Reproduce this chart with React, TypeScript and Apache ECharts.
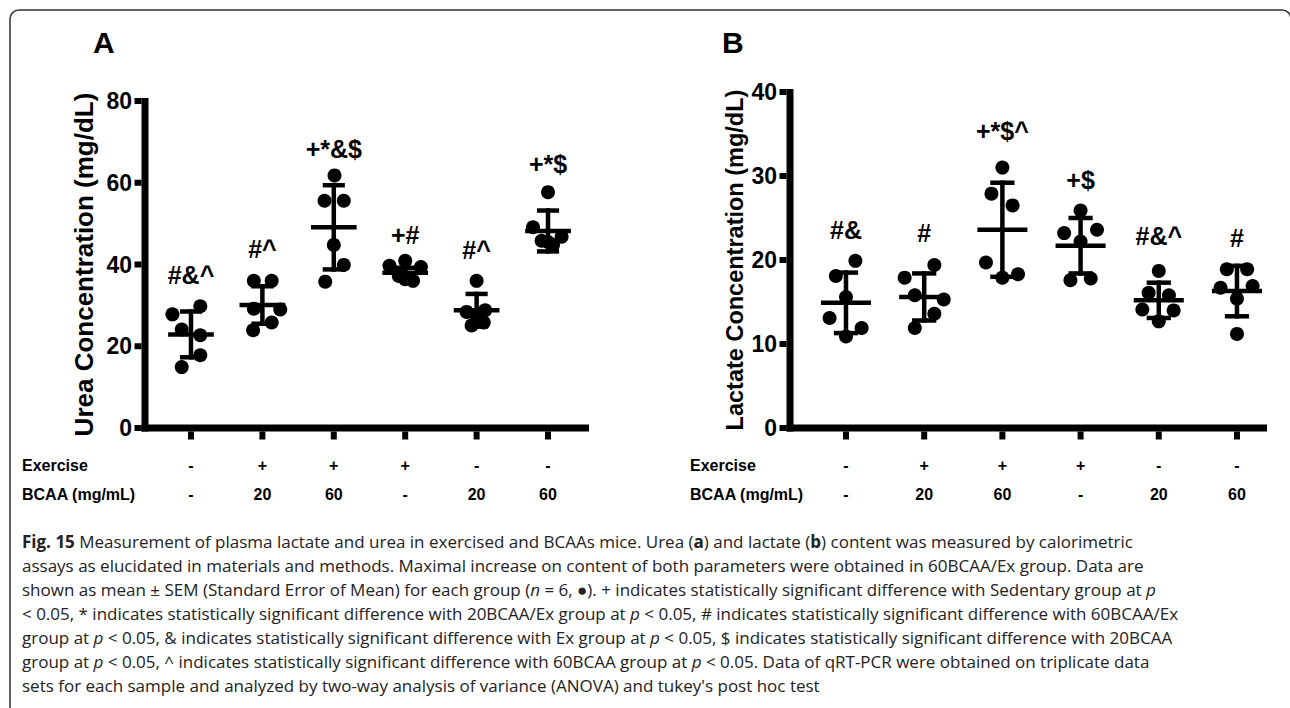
import React, { useEffect, useRef } from "react";
import * as echarts from "echarts";

// ---------- DATA ----------
const groups = [1, 2, 3, 4, 5, 6];
const exerciseRow = ["-", "+", "+", "+", "-", "-"];
const bcaaRow = ["-", "20", "60", "-", "20", "60"];

// Panel A: Urea (mg/dL)
const ureaPoints = [
  [27.8, 29.8, 24.1, 22.7, 17.8, 14.9],
  [36.0, 36.0, 29.2, 29.0, 25.8, 23.9],
  [61.8, 55.6, 55.6, 44.8, 39.9, 35.8],
  [39.7, 40.9, 39.4, 37.2, 36.0, 36.4],
  [36.0, 28.4, 28.8, 27.2, 25.1, 25.8],
  [57.7, 49.1, 46.8, 45.8, 44.8, 45.5],
];
const ureaJitter = [
  [-0.26, 0.13, -0.13, 0.13, 0.13, -0.13],
  [-0.12, 0.13, -0.12, 0.25, 0.13, -0.13],
  [0.01, -0.13, 0.14, 0, 0.14, -0.12],
  [-0.22, 0, 0.22, -0.09, 0.11, 0.0],
  [0, -0.14, 0.12, 0, -0.07, 0.1],
  [0, -0.21, 0.19, -0.09, 0.07, 0.0],
];
const ureaMean = [22.9, 30.1, 49.1, 38.0, 28.8, 48.2];
const ureaErr = [5.6, 4.6, 10.3, 1.2, 4.0, 5.0];
const ureaMarks = ["#&^", "#^", "+*&$", "+#", "#^", "+*$"];
const ureaMarkY = [37.4, 43.8, 68.2, 47.2, 43.5, 64.5];
const ureaTicks = [0, 20, 40, 60, 80];

// Panel B: Lactate (mg/dL)
const lactatePoints = [
  [19.9, 18.1, 15.6, 13.1, 11.9, 10.9],
  [19.4, 17.9, 15.3, 15.8, 13.6, 11.9],
  [31.0, 27.9, 26.5, 19.7, 17.9, 18.3],
  [25.9, 23.2, 23.6, 22.2, 17.6, 17.8],
  [18.7, 16.1, 15.8, 14.1, 14.0, 12.7],
  [18.9, 18.9, 16.7, 16.9, 15.4, 11.2],
];
const lactateJitter = [
  [0.12, -0.13, 0, -0.21, 0.2, 0],
  [0.13, -0.25, 0.25, -0.12, 0.13, -0.12],
  [0, -0.14, 0.13, -0.21, 0, 0.2],
  [0, -0.21, 0.21, 0, -0.13, 0.13],
  [0, -0.13, 0.13, -0.21, 0.19, 0],
  [-0.13, 0.13, -0.21, 0.2, 0, 0],
];
const lactateMean = [14.9, 15.6, 23.6, 21.7, 15.2, 16.3];
const lactateErr = [3.6, 2.8, 5.6, 3.3, 2.1, 3.0];
const lactateMarks = ["#&", "#", "+*$^", "+$", "#&^", "#"];
const lactateMarkY = [23.6, 23.2, 35.3, 29.5, 22.8, 22.6];
const lactateTicks = [0, 10, 20, 30, 40];

const captionLines = [
  "{b|Fig. 15} Measurement of plasma lactate and urea in exercised and BCAAs mice. Urea ({b|a}) and lactate ({b|b}) content was measured by calorimetric",
  "assays as elucidated in materials and methods. Maximal increase on content of both parameters were obtained in 60BCAA/Ex group. Data are",
  "shown as mean ± SEM (Standard Error of Mean) for each group ({i|n} = 6, ●). + indicates statistically significant difference with Sedentary group at {i|p}",
  "< 0.05, * indicates statistically significant difference with 20BCAA/Ex group at {i|p} < 0.05, # indicates statistically significant difference with 60BCAA/Ex",
  "group at {i|p} < 0.05, & indicates statistically significant difference with Ex group at {i|p} < 0.05, $ indicates statistically significant difference with 20BCAA",
  "group at {i|p} < 0.05, ^ indicates statistically significant difference with 60BCAA group at {i|p} < 0.05. Data of qRT-PCR were obtained on triplicate data",
  "sets for each sample and analyzed by two-way analysis of variance (ANOVA) and tukey's post hoc test",
];

// ---------- CHART ----------
const FONT = "'Liberation Sans', Arial, sans-serif";
const CAPFONT = "'Open Sans', 'Noto Sans', sans-serif";
const CAPSIZE = 17;

function pointsData(points: number[][], jitter: number[][]) {
  const out: number[][] = [];
  points.forEach((arr, g) => {
    arr.forEach((v, k) => out.push([groups[g] + jitter[g][k], v]));
  });
  return out;
}

function bar(x: number, y: number, w: number, h: number) {
  return { type: "rect", shape: { x, y, width: w, height: h }, style: { fill: "#000" } };
}

function errRender(params: any, api: any) {
  const x = api.value(0);
  const m = api.value(1);
  const e = api.value(2);
  const c = api.coord([x, m]);
  const t = api.coord([x, m + e]);
  const b = api.coord([x, m - e]);
  const l = api.coord([x - 0.32, m])[0];
  const r = api.coord([x + 0.32, m])[0];
  const cl = api.coord([x - 0.155, m])[0];
  const cr = api.coord([x + 0.155, m])[0];
  const th = 4.5;
  return {
    type: "group",
    children: [
      bar(l, c[1] - th / 2, r - l, th),
      bar(c[0] - th / 2, t[1] - th / 2, th, b[1] - t[1] + th),
      bar(cl, t[1] - th / 2, cr - cl, th),
      bar(cl, b[1] - th / 2, cr - cl, th),
    ],
  };
}

// heavy axis frame (line + ticks) drawn through the axes' scales
function makeAxisRender(xMin: number, xMax: number, yTicks: number[]) {
  return (params: any, api: any) => {
    const y0 = yTicks[0];
    const y1 = yTicks[yTicks.length - 1];
    const o = api.coord([xMin, y0]);
    const top = api.coord([xMin, y1]);
    const end = api.coord([xMax, y0]);
    const w = 7;
    const children: any[] = [
      bar(o[0] - w / 2, top[1] - 3, w, o[1] - top[1] + 3 + w / 2),
      bar(o[0] - w / 2, o[1] - w / 2, end[0] - o[0] + w / 2, w),
    ];
    yTicks.forEach((v) => {
      const p = api.coord([xMin, v]);
      children.push(bar(p[0] - w / 2 - 7, p[1] - 3, 7, 6));
    });
    groups.forEach((g) => {
      const p = api.coord([g, y0]);
      children.push(bar(p[0] - 3, p[1] + w / 2, 6, 8));
    });
    return { type: "group", children };
  };
}

function xAxisFor(gridIndex: number, min: number, max: number) {
  return {
    type: "value",
    gridIndex,
    min,
    max,
    axisLine: { show: false },
    axisTick: { show: false },
    axisLabel: {
      show: true,
      customValues: groups,
      margin: 23,
      color: "#000",
      fontFamily: FONT,
      fontWeight: "bold",
      fontSize: 16,
      lineHeight: 29,
      formatter: (v: number) => {
        const i = Math.round(v) - 1;
        return exerciseRow[i] + "\n" + bcaaRow[i];
      },
    },
    splitLine: { show: false },
  };
}

function yAxisFor(gridIndex: number, ticks: number[], name: string, nameGap: number, nameSize: number) {
  return {
    type: "value",
    gridIndex,
    min: ticks[0],
    max: ticks[ticks.length - 1],
    interval: ticks[1] - ticks[0],
    name,
    nameLocation: "middle",
    nameGap,
    nameTextStyle: { color: "#000", fontFamily: FONT, fontWeight: "bold", fontSize: nameSize },
    axisLine: { show: false },
    axisTick: { show: false },
    axisLabel: { color: "#000", fontFamily: FONT, fontWeight: "bold", fontSize: 23, margin: 13 },
    splitLine: { show: false },
  };
}

function panelSeries(idx: number, xMin: number, xMax: number, yTicks: number[], points: number[][], jitter: number[][], mean: number[], err: number[], marks: string[], markY: number[]) {
  return [
    {
      type: "custom",
      xAxisIndex: idx,
      yAxisIndex: idx,
      data: [[xMin, yTicks[0]]],
      encode: { x: 0, y: 1 },
      renderItem: makeAxisRender(xMin, xMax, yTicks),
      clip: false,
      silent: true,
      z: 5,
    },
    {
      type: "scatter",
      xAxisIndex: idx,
      yAxisIndex: idx,
      data: pointsData(points, jitter),
      symbol: "circle",
      symbolSize: 14,
      itemStyle: { color: "#000", opacity: 1 },
      z: 2,
    },
    {
      type: "custom",
      xAxisIndex: idx,
      yAxisIndex: idx,
      data: groups.map((g, i) => [g, mean[i], err[i]]),
      encode: { x: 0, y: 1 },
      renderItem: errRender,
      clip: false,
      z: 3,
    },
    {
      type: "scatter",
      xAxisIndex: idx,
      yAxisIndex: idx,
      data: groups.map((g, i) => ({ value: [g, markY[i]], name: marks[i] })),
      symbolSize: 0,
      itemStyle: { opacity: 1 },
      label: {
        show: true,
        position: "inside",
        formatter: (p: any) => p.name,
        color: "#000",
        opacity: 1,
        fontFamily: FONT,
        fontWeight: "bold",
        fontSize: 25,
      },
      z: 4,
    },
  ];
}

const A_X: [number, number] = [0.356, 6.574];
const B_X: [number, number] = [0.284, 6.384];

export default function App() {
  const ref = useRef<HTMLDivElement>(null);
  useEffect(() => {
    document.body.style.margin = "0";
    const chart = echarts.init(ref.current!, null, { renderer: "svg" });
    const lbl = `bold 16px ${FONT}`;
    const graphic: any[] = [
      {
        type: "rect",
        shape: { x: 10, y: 10, width: 1281, height: 710, r: 9 },
        style: { fill: "none", stroke: "#333", lineWidth: 1.5 },
        silent: true,
      },
      { type: "text", left: 93, top: 27, style: { text: "A", font: `bold 30px ${FONT}`, fill: "#000" } },
      { type: "text", left: 722, top: 27, style: { text: "B", font: `bold 30px ${FONT}`, fill: "#000" } },
      { type: "text", left: 22, top: 457, style: { text: "Exercise", font: lbl, fill: "#000" } },
      { type: "text", left: 22, top: 486, style: { text: "BCAA (mg/mL)", font: lbl, fill: "#000" } },
      { type: "text", left: 690, top: 457, style: { text: "Exercise", font: lbl, fill: "#000" } },
      { type: "text", left: 690, top: 486, style: { text: "BCAA (mg/mL)", font: lbl, fill: "#000" } },
    ];
    captionLines.forEach((line, i) => {
      graphic.push({
        type: "text",
        left: 22,
        top: 533 + i * 24,
        style: {
          text: line,
          fontFamily: CAPFONT,
          fontSize: CAPSIZE,
          fill: "#222",
          rich: {
            b: { fontFamily: CAPFONT, fontSize: CAPSIZE, fontWeight: "bold", fill: "#222" },
            i: { fontFamily: CAPFONT, fontSize: CAPSIZE, fontStyle: "italic", fill: "#222" },
          },
        },
      });
    });
    chart.setOption({
      animation: false,
      backgroundColor: "#fff",
      grid: [
        { left: 145, top: 101, width: 444, height: 327 },
        { left: 790, top: 92, width: 477, height: 336 },
      ],
      xAxis: [xAxisFor(0, A_X[0], A_X[1]), xAxisFor(1, B_X[0], B_X[1])],
      yAxis: [
        yAxisFor(0, ureaTicks, "Urea Concentration (mg/dL)", 48, 26),
        yAxisFor(1, lactateTicks, "Lactate Concentration (mg/dL)", 43, 23.5),
      ],
      series: [
        ...panelSeries(0, A_X[0], A_X[1], ureaTicks, ureaPoints, ureaJitter, ureaMean, ureaErr, ureaMarks, ureaMarkY),
        ...panelSeries(1, B_X[0], B_X[1], lactateTicks, lactatePoints, lactateJitter, lactateMean, lactateErr, lactateMarks, lactateMarkY),
      ],
      graphic,
    });
    return () => chart.dispose();
  }, []);
  return <div ref={ref} style={{ width: 1290, height: 708 }} />;
}
